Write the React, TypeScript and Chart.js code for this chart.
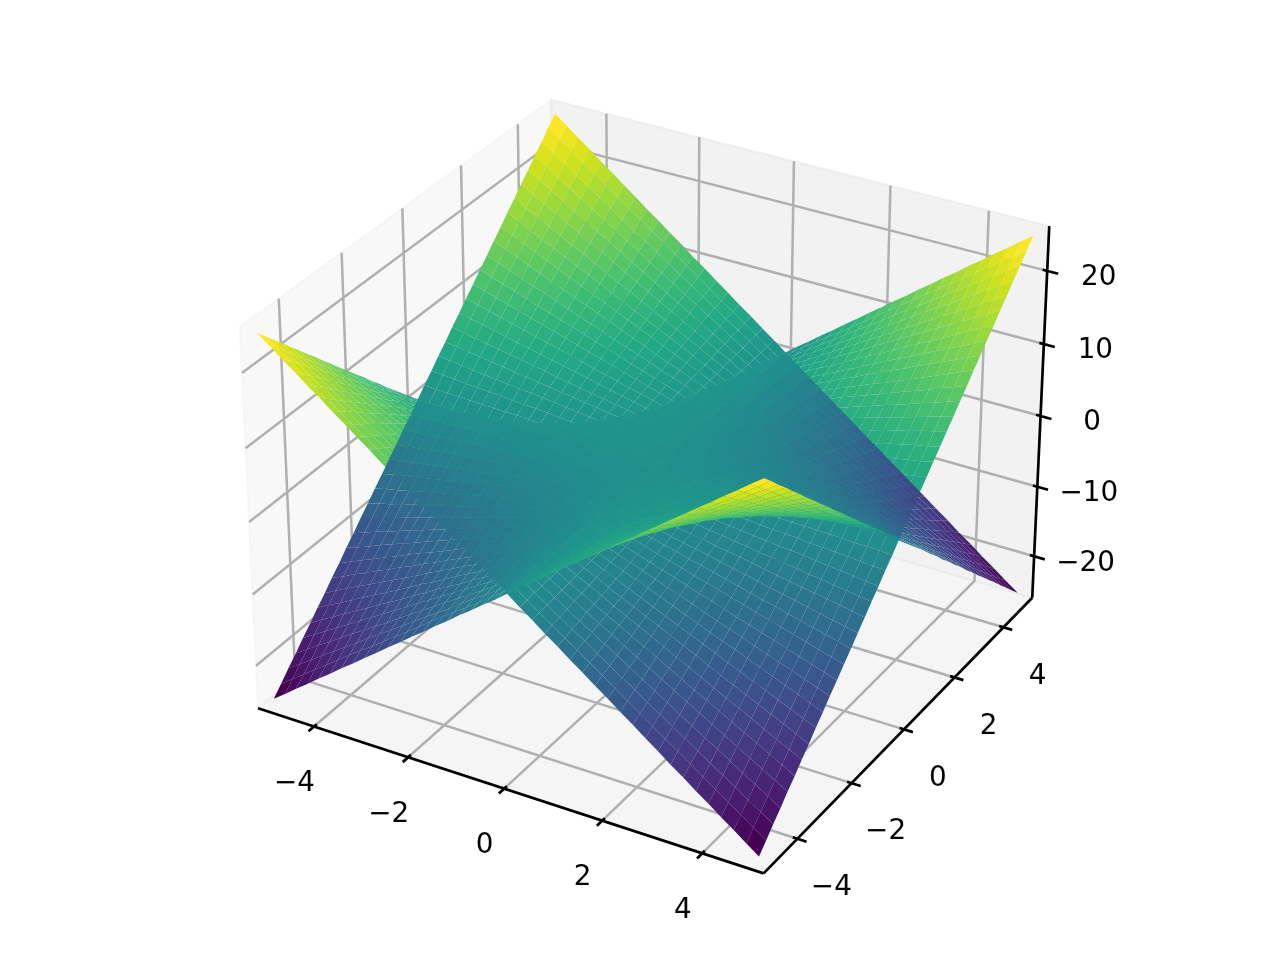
import React, { useEffect, useRef } from "react";
import { Chart, registerables } from "chart.js";

Chart.register(...registerables);

const xGrid = [-5,-4.75,-4.5,-4.25,-4,-3.75,-3.5,-3.25,-3,-2.75,-2.5,-2.25,-2,-1.75,-1.5,-1.25,-1,-.75,-.5,-.25,0,.25,.5,.75,1,1.25,1.5,1.75,2,2.25,2.5,2.75,3,3.25,3.5,3.75,4,4.25,4.5,4.75,5];
const yGrid = [-5,-4.75,-4.5,-4.25,-4,-3.75,-3.5,-3.25,-3,-2.75,-2.5,-2.25,-2,-1.75,-1.5,-1.25,-1,-.75,-.5,-.25,0,.25,.5,.75,1,1.25,1.5,1.75,2,2.25,2.5,2.75,3,3.25,3.5,3.75,4,4.25,4.5,4.75,5];
const sheetLower = [
[25,23.8,22.5,21.3,20,18.8,17.5,16.3,15,13.8,12.5,11.3,10,8.8,7.5,6.3,5,3.8,2.5,1.3,0,-1.3,-2.5,-3.8,-5,-6.3,-7.5,-8.8,-10,-11.3,-12.5,-13.8,-15,-16.3,-17.5,-18.8,-20,-21.3,-22.5,-23.8,-25],
[23.8,22.6,21.4,20.2,19,17.8,16.6,15.4,14.3,13.1,11.9,10.7,9.5,8.3,7.1,5.9,4.8,3.6,2.4,1.2,0,-1.2,-2.4,-3.6,-4.8,-5.9,-7.1,-8.3,-9.5,-10.7,-11.9,-13.1,-14.3,-15.4,-16.6,-17.8,-19,-20.2,-21.4,-22.6,-23.8],
[22.5,21.4,20.3,19.1,18,16.9,15.8,14.6,13.5,12.4,11.3,10.1,9,7.9,6.8,5.6,4.5,3.4,2.3,1.1,0,-1.1,-2.3,-3.4,-4.5,-5.6,-6.8,-7.9,-9,-10.1,-11.3,-12.4,-13.5,-14.6,-15.8,-16.9,-18,-19.1,-20.3,-21.4,-22.5],
[21.3,20.2,19.1,18.1,17,15.9,14.9,13.8,12.8,11.7,10.6,9.6,8.5,7.4,6.4,5.3,4.3,3.2,2.1,1.1,0,-1.1,-2.1,-3.2,-4.3,-5.3,-6.4,-7.4,-8.5,-9.6,-10.6,-11.7,-12.8,-13.8,-14.9,-15.9,-17,-18.1,-19.1,-20.2,-21.3],
[20,19,18,17,16,15,14,13,12,11,10,9,8,7,6,5,4,3,2,1,0,-1,-2,-3,-4,-5,-6,-7,-8,-9,-10,-11,-12,-13,-14,-15,-16,-17,-18,-19,-20],
[18.8,17.8,16.9,15.9,15,14.1,13.1,12.2,11.3,10.3,9.4,8.4,7.5,6.6,5.6,4.7,3.8,2.8,1.9,.9,0,-.9,-1.9,-2.8,-3.8,-4.7,-5.6,-6.6,-7.5,-8.4,-9.4,-10.3,-11.3,-12.2,-13.1,-14.1,-15,-15.9,-16.9,-17.8,-18.8],
[17.5,16.6,15.8,14.9,14,13.1,12.3,11.4,10.5,9.6,8.8,7.9,7,6.1,5.3,4.4,3.5,2.6,1.8,.9,0,-.9,-1.8,-2.6,-3.5,-4.4,-5.3,-6.1,-7,-7.9,-8.8,-9.6,-10.5,-11.4,-12.3,-13.1,-14,-14.9,-15.8,-16.6,-17.5],
[16.3,15.4,14.6,13.8,13,12.2,11.4,10.6,9.8,8.9,8.1,7.3,6.5,5.7,4.9,4.1,3.3,2.4,1.6,.8,0,-.8,-1.6,-2.4,-3.3,-4.1,-4.9,-5.7,-6.5,-7.3,-8.1,-8.9,-9.8,-10.6,-11.4,-12.2,-13,-13.8,-14.6,-15.4,-16.3],
[15,14.3,13.5,12.8,12,11.3,10.5,9.8,9,8.3,7.5,6.8,6,5.3,4.5,3.8,3,2.3,1.5,.8,0,-.8,-1.5,-2.3,-3,-3.8,-4.5,-5.3,-6,-6.8,-7.5,-8.3,-9,-9.8,-10.5,-11.3,-12,-12.8,-13.5,-14.3,-15],
[13.8,13.1,12.4,11.7,11,10.3,9.6,8.9,8.3,7.6,6.9,6.2,5.5,4.8,4.1,3.4,2.8,2.1,1.4,.7,0,-.7,-1.4,-2.1,-2.8,-3.4,-4.1,-4.8,-5.5,-6.2,-6.9,-7.6,-8.3,-8.9,-9.6,-10.3,-11,-11.7,-12.4,-13.1,-13.8],
[12.5,11.9,11.3,10.6,10,9.4,8.8,8.1,7.5,6.9,6.3,5.6,5,4.4,3.8,3.1,2.5,1.9,1.3,.6,0,-.6,-1.3,-1.9,-2.5,-3.1,-3.8,-4.4,-5,-5.6,-6.3,-6.9,-7.5,-8.1,-8.8,-9.4,-10,-10.6,-11.3,-11.9,-12.5],
[11.3,10.7,10.1,9.6,9,8.4,7.9,7.3,6.8,6.2,5.6,5.1,4.5,3.9,3.4,2.8,2.3,1.7,1.1,.6,0,-.6,-1.1,-1.7,-2.3,-2.8,-3.4,-3.9,-4.5,-5.1,-5.6,-6.2,-6.8,-7.3,-7.9,-8.4,-9,-9.6,-10.1,-10.7,-11.3],
[10,9.5,9,8.5,8,7.5,7,6.5,6,5.5,5,4.5,4,3.5,3,2.5,2,1.5,1,.5,0,-.5,-1,-1.5,-2,-2.5,-3,-3.5,-4,-4.5,-5,-5.5,-6,-6.5,-7,-7.5,-8,-8.5,-9,-9.5,-10],
[8.8,8.3,7.9,7.4,7,6.6,6.1,5.7,5.3,4.8,4.4,3.9,3.5,3.1,2.6,2.2,1.8,1.3,.9,.4,0,-.4,-.9,-1.3,-1.8,-2.2,-2.6,-3.1,-3.5,-3.9,-4.4,-4.8,-5.3,-5.7,-6.1,-6.6,-7,-7.4,-7.9,-8.3,-8.8],
[7.5,7.1,6.8,6.4,6,5.6,5.3,4.9,4.5,4.1,3.8,3.4,3,2.6,2.3,1.9,1.5,1.1,.8,.4,0,-.4,-.8,-1.1,-1.5,-1.9,-2.3,-2.6,-3,-3.4,-3.8,-4.1,-4.5,-4.9,-5.3,-5.6,-6,-6.4,-6.8,-7.1,-7.5],
[6.3,5.9,5.6,5.3,5,4.7,4.4,4.1,3.8,3.4,3.1,2.8,2.5,2.2,1.9,1.6,1.3,.9,.6,.3,0,-.3,-.6,-.9,-1.3,-1.6,-1.9,-2.2,-2.5,-2.8,-3.1,-3.4,-3.8,-4.1,-4.4,-4.7,-5,-5.3,-5.6,-5.9,-6.3],
[5,4.8,4.5,4.3,4,3.8,3.5,3.3,3,2.8,2.5,2.3,2,1.8,1.5,1.3,1,.8,.5,.3,0,-.3,-.5,-.8,-1,-1.3,-1.5,-1.8,-2,-2.3,-2.5,-2.8,-3,-3.3,-3.5,-3.8,-4,-4.3,-4.5,-4.8,-5],
[3.8,3.6,3.4,3.2,3,2.8,2.6,2.4,2.3,2.1,1.9,1.7,1.5,1.3,1.1,.9,.8,.6,.4,.2,0,-.2,-.4,-.6,-.8,-.9,-1.1,-1.3,-1.5,-1.7,-1.9,-2.1,-2.3,-2.4,-2.6,-2.8,-3,-3.2,-3.4,-3.6,-3.8],
[2.5,2.4,2.3,2.1,2,1.9,1.8,1.6,1.5,1.4,1.3,1.1,1,.9,.8,.6,.5,.4,.3,.1,0,-.1,-.3,-.4,-.5,-.6,-.8,-.9,-1,-1.1,-1.3,-1.4,-1.5,-1.6,-1.8,-1.9,-2,-2.1,-2.3,-2.4,-2.5],
[1.3,1.2,1.1,1.1,1,.9,.9,.8,.8,.7,.6,.6,.5,.4,.4,.3,.3,.2,.1,.1,0,-.1,-.1,-.2,-.3,-.3,-.4,-.4,-.5,-.6,-.6,-.7,-.8,-.8,-.9,-.9,-1,-1.1,-1.1,-1.2,-1.3],
[0,0,0,0,0,0,0,0,0,0,0,0,0,0,0,0,0,0,0,0,0,0,0,0,0,0,0,0,0,0,0,0,0,0,0,0,0,0,0,0,0],
[-1.3,-1.2,-1.1,-1.1,-1,-.9,-.9,-.8,-.8,-.7,-.6,-.6,-.5,-.4,-.4,-.3,-.3,-.2,-.1,-.1,0,.1,.1,.2,.3,.3,.4,.4,.5,.6,.6,.7,.8,.8,.9,.9,1,1.1,1.1,1.2,1.3],
[-2.5,-2.4,-2.3,-2.1,-2,-1.9,-1.8,-1.6,-1.5,-1.4,-1.3,-1.1,-1,-.9,-.8,-.6,-.5,-.4,-.3,-.1,0,.1,.3,.4,.5,.6,.8,.9,1,1.1,1.3,1.4,1.5,1.6,1.8,1.9,2,2.1,2.3,2.4,2.5],
[-3.8,-3.6,-3.4,-3.2,-3,-2.8,-2.6,-2.4,-2.3,-2.1,-1.9,-1.7,-1.5,-1.3,-1.1,-.9,-.8,-.6,-.4,-.2,0,.2,.4,.6,.8,.9,1.1,1.3,1.5,1.7,1.9,2.1,2.3,2.4,2.6,2.8,3,3.2,3.4,3.6,3.8],
[-5,-4.8,-4.5,-4.3,-4,-3.8,-3.5,-3.3,-3,-2.8,-2.5,-2.3,-2,-1.8,-1.5,-1.3,-1,-.8,-.5,-.3,0,.3,.5,.8,1,1.3,1.5,1.8,2,2.3,2.5,2.8,3,3.3,3.5,3.8,4,4.3,4.5,4.8,5],
[-6.3,-5.9,-5.6,-5.3,-5,-4.7,-4.4,-4.1,-3.8,-3.4,-3.1,-2.8,-2.5,-2.2,-1.9,-1.6,-1.3,-.9,-.6,-.3,0,.3,.6,.9,1.3,1.6,1.9,2.2,2.5,2.8,3.1,3.4,3.8,4.1,4.4,4.7,5,5.3,5.6,5.9,6.3],
[-7.5,-7.1,-6.8,-6.4,-6,-5.6,-5.3,-4.9,-4.5,-4.1,-3.8,-3.4,-3,-2.6,-2.3,-1.9,-1.5,-1.1,-.8,-.4,0,.4,.8,1.1,1.5,1.9,2.3,2.6,3,3.4,3.8,4.1,4.5,4.9,5.3,5.6,6,6.4,6.8,7.1,7.5],
[-8.8,-8.3,-7.9,-7.4,-7,-6.6,-6.1,-5.7,-5.3,-4.8,-4.4,-3.9,-3.5,-3.1,-2.6,-2.2,-1.8,-1.3,-.9,-.4,0,.4,.9,1.3,1.8,2.2,2.6,3.1,3.5,3.9,4.4,4.8,5.3,5.7,6.1,6.6,7,7.4,7.9,8.3,8.8],
[-10,-9.5,-9,-8.5,-8,-7.5,-7,-6.5,-6,-5.5,-5,-4.5,-4,-3.5,-3,-2.5,-2,-1.5,-1,-.5,0,.5,1,1.5,2,2.5,3,3.5,4,4.5,5,5.5,6,6.5,7,7.5,8,8.5,9,9.5,10],
[-11.3,-10.7,-10.1,-9.6,-9,-8.4,-7.9,-7.3,-6.8,-6.2,-5.6,-5.1,-4.5,-3.9,-3.4,-2.8,-2.3,-1.7,-1.1,-.6,0,.6,1.1,1.7,2.3,2.8,3.4,3.9,4.5,5.1,5.6,6.2,6.8,7.3,7.9,8.4,9,9.6,10.1,10.7,11.3],
[-12.5,-11.9,-11.3,-10.6,-10,-9.4,-8.8,-8.1,-7.5,-6.9,-6.3,-5.6,-5,-4.4,-3.8,-3.1,-2.5,-1.9,-1.3,-.6,0,.6,1.3,1.9,2.5,3.1,3.8,4.4,5,5.6,6.3,6.9,7.5,8.1,8.8,9.4,10,10.6,11.3,11.9,12.5],
[-13.8,-13.1,-12.4,-11.7,-11,-10.3,-9.6,-8.9,-8.3,-7.6,-6.9,-6.2,-5.5,-4.8,-4.1,-3.4,-2.8,-2.1,-1.4,-.7,0,.7,1.4,2.1,2.8,3.4,4.1,4.8,5.5,6.2,6.9,7.6,8.3,8.9,9.6,10.3,11,11.7,12.4,13.1,13.8],
[-15,-14.3,-13.5,-12.8,-12,-11.3,-10.5,-9.8,-9,-8.3,-7.5,-6.8,-6,-5.3,-4.5,-3.8,-3,-2.3,-1.5,-.8,0,.8,1.5,2.3,3,3.8,4.5,5.3,6,6.8,7.5,8.3,9,9.8,10.5,11.3,12,12.8,13.5,14.3,15],
[-16.3,-15.4,-14.6,-13.8,-13,-12.2,-11.4,-10.6,-9.8,-8.9,-8.1,-7.3,-6.5,-5.7,-4.9,-4.1,-3.3,-2.4,-1.6,-.8,0,.8,1.6,2.4,3.3,4.1,4.9,5.7,6.5,7.3,8.1,8.9,9.8,10.6,11.4,12.2,13,13.8,14.6,15.4,16.3],
[-17.5,-16.6,-15.8,-14.9,-14,-13.1,-12.3,-11.4,-10.5,-9.6,-8.8,-7.9,-7,-6.1,-5.3,-4.4,-3.5,-2.6,-1.8,-.9,0,.9,1.8,2.6,3.5,4.4,5.3,6.1,7,7.9,8.8,9.6,10.5,11.4,12.3,13.1,14,14.9,15.8,16.6,17.5],
[-18.8,-17.8,-16.9,-15.9,-15,-14.1,-13.1,-12.2,-11.3,-10.3,-9.4,-8.4,-7.5,-6.6,-5.6,-4.7,-3.8,-2.8,-1.9,-.9,0,.9,1.9,2.8,3.8,4.7,5.6,6.6,7.5,8.4,9.4,10.3,11.3,12.2,13.1,14.1,15,15.9,16.9,17.8,18.8],
[-20,-19,-18,-17,-16,-15,-14,-13,-12,-11,-10,-9,-8,-7,-6,-5,-4,-3,-2,-1,0,1,2,3,4,5,6,7,8,9,10,11,12,13,14,15,16,17,18,19,20],
[-21.3,-20.2,-19.1,-18.1,-17,-15.9,-14.9,-13.8,-12.8,-11.7,-10.6,-9.6,-8.5,-7.4,-6.4,-5.3,-4.3,-3.2,-2.1,-1.1,0,1.1,2.1,3.2,4.3,5.3,6.4,7.4,8.5,9.6,10.6,11.7,12.8,13.8,14.9,15.9,17,18.1,19.1,20.2,21.3],
[-22.5,-21.4,-20.3,-19.1,-18,-16.9,-15.8,-14.6,-13.5,-12.4,-11.3,-10.1,-9,-7.9,-6.8,-5.6,-4.5,-3.4,-2.3,-1.1,0,1.1,2.3,3.4,4.5,5.6,6.8,7.9,9,10.1,11.3,12.4,13.5,14.6,15.8,16.9,18,19.1,20.3,21.4,22.5],
[-23.8,-22.6,-21.4,-20.2,-19,-17.8,-16.6,-15.4,-14.3,-13.1,-11.9,-10.7,-9.5,-8.3,-7.1,-5.9,-4.8,-3.6,-2.4,-1.2,0,1.2,2.4,3.6,4.8,5.9,7.1,8.3,9.5,10.7,11.9,13.1,14.3,15.4,16.6,17.8,19,20.2,21.4,22.6,23.8],
[-25,-23.8,-22.5,-21.3,-20,-18.8,-17.5,-16.3,-15,-13.8,-12.5,-11.3,-10,-8.8,-7.5,-6.3,-5,-3.8,-2.5,-1.3,0,1.3,2.5,3.8,5,6.3,7.5,8.8,10,11.3,12.5,13.8,15,16.3,17.5,18.8,20,21.3,22.5,23.8,25],
];
// The upper sheet is the same table seen mirrored across x = 0.
const sheetUpper = [...sheetLower].reverse();

const xTicks = [-4, -2, 0, 2, 4];
const yTicks = [-4, -2, 0, 2, 4];
const zTicks = [-20, -10, 0, 10, 20];

const xRange = [-5.208, 5.208];
const yRange = [-5.208, 5.208];
const zRange = [-26.04, 26.04];

const viridis = [
  "#440154", "#481a6c", "#472f7d", "#414487", "#39568c", "#31688e", "#2a788e", "#23888e", "#1f988b",
  "#22a884", "#35b779", "#54c568", "#7ad151", "#a5db36", "#d2e21b", "#fde725",
];

const SCALE = 4865;
const CX = 652.3;
const CY = 468;
const W = 1280;
const H = 960;
const FONT = '27.8px "DejaVu Sans"';
const BOX = [1.1905, 1.1905, 0.8929];
const DIST = 10;
const U = [0.866025, 0.5, 0];
const V = [-0.25, 0.433013, 0.866025];
const WV = [0.433013, -0.75, 0.5];

function view(x: number, y: number, z: number) {
  const p = [
    ((x - xRange[0]) / (xRange[1] - xRange[0]) - 0.5) * BOX[0],
    ((y - yRange[0]) / (yRange[1] - yRange[0]) - 0.5) * BOX[1],
    ((z - zRange[0]) / (zRange[1] - zRange[0]) - 0.5) * BOX[2],
  ];
  const dot = (a: number[]) => a[0] * p[0] + a[1] * p[1] + a[2] * p[2];
  const d = DIST - dot(WV);
  return { x: dot(U) / d, y: dot(V) / d, depth: d };
}

function colorAt(t: number) {
  const f = Math.min(Math.max(t, 0), 1) * (viridis.length - 1);
  const i = Math.min(Math.floor(f), viridis.length - 2);
  const k = f - i;
  const rgb = (h: string) => [1, 3, 5].map((o) => parseInt(h.slice(o, o + 2), 16));
  const a = rgb(viridis[i]);
  const b = rgb(viridis[i + 1]);
  return `rgb(${a.map((v, n) => Math.round(v + (b[n] - v) * k)).join(",")})`;
}

function lineSet(points: number[][], color: string, width: number, order: number, fill?: string) {
  return {
    data: points.map((q) => view(q[0], q[1], q[2])),
    showLine: true,
    borderColor: color,
    borderWidth: width,
    borderCapStyle: "butt",
    backgroundColor: color,
    fill: fill ? "shape" : false,
    pointRadius: 0,
    order,
    tension: 0,
  };
}

function sheetSet(table: number[][]) {
  const data: { x: number; y: number; depth: number }[] = [];
  table.forEach((row, i) => row.forEach((z, j) => data.push(view(xGrid[i], yGrid[j], z))));
  return { data, showLine: false, pointRadius: 0, order: 100, sheet: table };
}

const surfacePlugin = {
  id: "surfacePlugin",
  afterDatasetsDraw(chart: any) {
    const ctx = chart.ctx;
    chart.data.datasets.forEach((ds: any, index: number) => {
      if (!ds.sheet) return;
      const pts = chart.getDatasetMeta(index).data;
      const table: number[][] = ds.sheet;
      const n = table[0].length;
      const cells: any[] = [];
      for (let i = 0; i < table.length - 1; i++) {
        for (let j = 0; j < n - 1; j++) {
          const ids = [i * n + j, (i + 1) * n + j, (i + 1) * n + j + 1, i * n + j + 1];
          const z = (table[i][j] + table[i + 1][j] + table[i + 1][j + 1] + table[i][j + 1]) / 4;
          const depth = ids.reduce((s, k) => s + ds.data[k].depth, 0) / 4;
          cells.push({ ids, z, depth });
        }
      }
      const zs = cells.map((c) => c.z);
      const lo = Math.min(...zs);
      const hi = Math.max(...zs);
      cells.sort((a, b) => b.depth - a.depth);
      for (const c of cells) {
        ctx.beginPath();
        c.ids.forEach((k: number, m: number) => {
          if (m === 0) ctx.moveTo(pts[k].x, pts[k].y);
          else ctx.lineTo(pts[k].x, pts[k].y);
        });
        ctx.closePath();
        ctx.fillStyle = colorAt((c.z - lo) / (hi - lo));
        ctx.fill();
      }
    });
  },
  afterDraw(chart: any) {
    const { ctx, scales } = chart;
    ctx.save();
    ctx.font = FONT;
    ctx.fillStyle = "#000";
    ctx.textAlign = "center";
    ctx.textBaseline = "middle";
    const put = (x: number, y: number, z: number, dx: number, dy: number, v: number) => {
      const p = view(x, y, z);
      ctx.fillText(
        String(v).replace("-", "\u2212"),
        scales.x.getPixelForValue(p.x) + dx,
        scales.y.getPixelForValue(p.y) + dy,
      );
    };
    xTicks.forEach((v) => put(v, yRange[0], zRange[0], -19.5, 57, v));
    yTicks.forEach((v) => put(xRange[1], v, zRange[0], 34, 49, v));
    zTicks.forEach((v) => put(xRange[1], yRange[1], v, 51.5, 7, v));
    ctx.restore();
  },
};

function buildDatasets() {
  const [x0, x1] = xRange;
  const [y0, y1] = yRange;
  const [z0, z1] = zRange;
  const sets: any[] = [];
  sets.push(lineSet([[x0, y0, z0], [x0, y1, z0], [x0, y1, z1], [x0, y0, z1], [x0, y0, z0]], "rgba(242,242,242,0.5)", 2, 60, "fill"));
  sets.push(lineSet([[x0, y1, z0], [x1, y1, z0], [x1, y1, z1], [x0, y1, z1], [x0, y1, z0]], "rgba(230,230,230,0.5)", 2, 59, "fill"));
  sets.push(lineSet([[x0, y0, z0], [x1, y0, z0], [x1, y1, z0], [x0, y1, z0], [x0, y0, z0]], "rgba(236,236,236,0.5)", 2, 58, "fill"));
  const grid = "#b0b0b0";
  xTicks.forEach((v) => sets.push(lineSet([[v, y0, z0], [v, y1, z0], [v, y1, z1]], grid, 2.5, 50)));
  yTicks.forEach((v) => sets.push(lineSet([[x1, v, z0], [x0, v, z0], [x0, v, z1]], grid, 2.5, 50)));
  zTicks.forEach((v) => sets.push(lineSet([[x1, y1, v], [x0, y1, v], [x0, y0, v]], grid, 2.5, 50)));
  const black = "#000000";
  sets.push(lineSet([[x0, y0, z0], [x1, y0, z0]], black, 2.7, 40));
  sets.push(lineSet([[x1, y0, z0], [x1, y1, z0]], black, 2.7, 40));
  sets.push(lineSet([[x1, y1, z0], [x1, y1, z1]], black, 2.7, 40));
  xTicks.forEach((v) => sets.push(lineSet([[v, y0 + 0.09, z0], [v, y0 - 0.18, z0]], black, 2.7, 40)));
  yTicks.forEach((v) => sets.push(lineSet([[x1 - 0.09, v, z0], [x1 + 0.18, v, z0]], black, 2.7, 40)));
  zTicks.forEach((v) => sets.push(lineSet([[x1 - 0.09, y1, v], [x1 + 0.22, y1, v]], black, 2.7, 40)));
  sets.push(sheetSet(sheetLower));
  sets.push(sheetSet(sheetUpper));
  return sets;
}

export default function App() {
  const ref = useRef<HTMLCanvasElement | null>(null);
  useEffect(() => {
    document.body.style.margin = "0";
    const chart = new Chart(ref.current as HTMLCanvasElement, {
      type: "scatter",
      data: { datasets: buildDatasets() },
      options: {
        animation: false,
        responsive: false,
        devicePixelRatio: 1,
        layout: { padding: 0 },
        plugins: { legend: { display: false }, tooltip: { enabled: false } },
        scales: {
          x: { type: "linear", display: false, min: -CX / SCALE, max: (W - CX) / SCALE },
          y: { type: "linear", display: false, min: -(H - CY) / SCALE, max: CY / SCALE },
        },
      },
      plugins: [surfacePlugin],
    } as any);
    return () => chart.destroy();
  }, []);
  return <canvas ref={ref} width={W} height={H} style={{ display: "block", background: "#fff" }} />;
}
